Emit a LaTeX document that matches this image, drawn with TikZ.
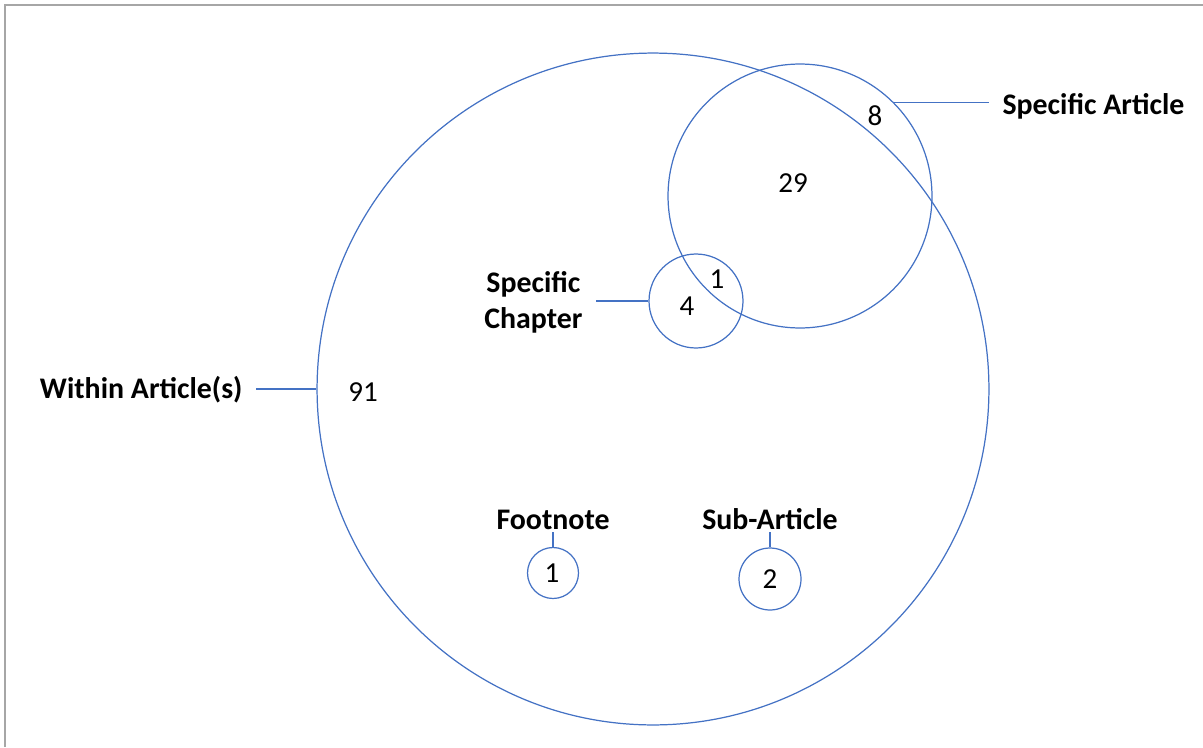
\documentclass[tikz,border=0pt]{standalone}
\usepackage{fontspec}
\setmainfont{Carlito}
\usetikzlibrary{positioning}
\definecolor{ringblue}{HTML}{4472C4}
\definecolor{framegray}{HTML}{A6A6A6}

\begin{document}
\begin{tikzpicture}[x=0.02cm,y=-0.02cm,
  ring/.style={draw=ringblue,line width=0.7pt,circle,inner sep=0pt},
  lead/.style={draw=ringblue,line width=0.7pt},
  tag/.style={font=\fontsize{17}{20.5}\selectfont\bfseries,align=center,inner xsep=7.5pt,inner ysep=1pt},
  count/.style={font=\fontsize{16.5}{20}\selectfont,inner sep=0pt}]
\useasboundingbox (0,0) rectangle (1203,747);
\draw[framegray,line width=1.2pt] (5,747) -- (5,5) -- (1203,5);
\node[ring,minimum size=13.44cm] (within) at (653,389) {};
\node[ring,minimum size=5.28cm] (art) at (800,196) {};
\node[ring,minimum size=1.88cm] (chap) at (696,301) {};
\node[ring,minimum size=1.02cm] (fn) at (553,573) {};
\node[ring,minimum size=1.24cm] (sub) at (770,579) {};
\node[tag,anchor=east] (withinlbl) at (256,390) {Within Article(s)};
\node[tag,anchor=west] (artlbl) at (989,106) {Specific Article};
\node[tag,anchor=east] (chaplbl) at (596,302) {Specific\\Chapter};
\node[tag,anchor=south] (fnlbl) at (553,532) {Footnote};
\node[tag,anchor=south] (sublbl) at (770,532) {Sub-Article};
\draw[lead] (within.west) -- (within.west -| withinlbl.east);
\draw[lead] (art.north east) -- (art.north east -| artlbl.west);
\draw[lead] (chap.west) -- (chap.west -| chaplbl.east);
\draw[lead] (fnlbl.south) -- (fn.north);
\draw[lead] (sublbl.south) -- (sub.north);
\node[count] (nwithin) at (363,392) {91};
\node[count] (nart) at (875,116) {8};
\node[count] (nboth) at (793,183) {29};
\node[count] (nchapart) at (717,279) {1};
\node[count] (nchap) at (687,306) {4};
\node[count] (nfn) at (552,573) {1};
\node[count] (nsub) at (770,579) {2};
\end{tikzpicture}
\end{document}
